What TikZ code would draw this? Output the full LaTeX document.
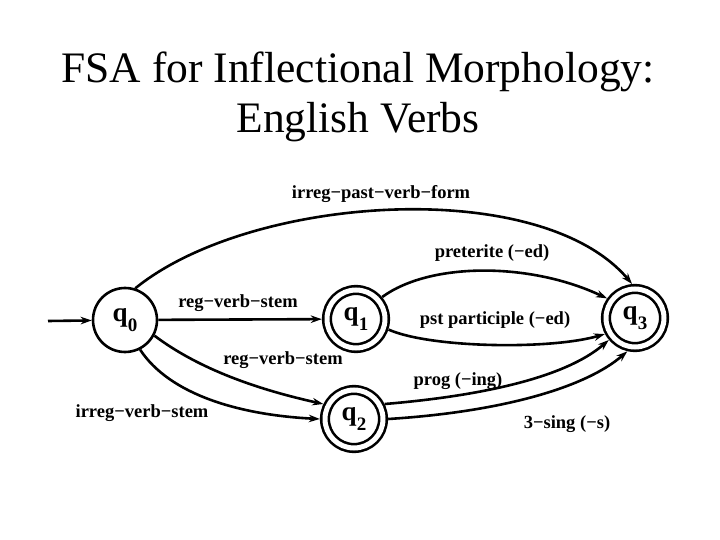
\documentclass[tikz,border=0pt]{standalone}
\usepackage{fontspec}
\setmainfont{Liberation Serif}
\usetikzlibrary{arrows.meta,positioning}
\tikzset{
  fsastate/.style={circle,draw=black,line width=2.6pt,minimum size=64pt,inner sep=0pt,outer sep=1.3pt},
  fsaaccept/.style={circle,draw=black,line width=2.6pt,double,double distance=5pt,
                    minimum size=58pt,inner sep=0pt,outer sep=5.2pt},
  fsaflow/.style={-{Stealth[length=11pt,width=7.5pt]},line width=2.6pt},
  fsalbl/.style={font=\fontsize{18.5}{20}\selectfont\bfseries,inner sep=0pt,anchor=base},
  fsatitle/.style={font=\fontsize{43.5}{50}\selectfont,inner sep=0pt,anchor=base},
}
\newcommand{\qsub}[1]{{\fontsize{27}{27}\selectfont\bfseries q}\raisebox{-10pt}{\fontsize{19}{19}\selectfont\bfseries #1}}

\begin{document}
\begin{tikzpicture}[x=1pt,y=-1pt]
  \useasboundingbox (0,0) rectangle (720,540);
  \node[fsatitle] (T1) at (358,83)  {FSA for Inflectional Morphology:};
  \node[fsatitle] (T2) at (358,133) {English Verbs};

  \node[fsastate]  (q0) at (125,320) {\qsub{0}};
  \node[fsaaccept] (q1) at (356,319) {\qsub{1}};
  \node[fsaaccept] (q2) at (354,419) {\qsub{2}};
  \node[fsaaccept] (q3) at (635,318) {\qsub{3}};
  \coordinate (start) at (48,321);

  \draw[fsaflow] (start) -- (q0);
  \draw[fsaflow] (q0) -- (q1);
  \draw[fsaflow] (q0.72) .. controls (250,195) and (540,175) .. (q3.95);
  \draw[fsaflow] (q1.40) .. controls (430,262) and (530,262) .. (q3.145);
  \draw[fsaflow] (q1.-18) .. controls (430,348) and (550,350) .. (q3.-152);
  \draw[fsaflow] (q0.-28) .. controls (200,370) and (260,390) .. (q2.154);
  \draw[fsaflow] (q0.-63) .. controls (170,395) and (240,415) .. (q2.180);
  \draw[fsaflow] (q2.26) .. controls (480,396) and (565,378) .. (q3.-140);
  \draw[fsaflow] (q2.0) .. controls (500,412) and (585,388) .. (q3.-103);

  \node[fsalbl] (l1) at (381,199) {irreg−past−verb−form};
  \node[fsalbl] (l2) at (492,257) {preterite (−ed)};
  \node[fsalbl] (l3) at (238,307) {reg−verb−stem};
  \node[fsalbl] (l4) at (495,324) {pst participle (−ed)};
  \node[fsalbl] (l5) at (283,364) {reg−verb−stem};
  \node[fsalbl] (l6) at (458,385) {prog (−ing)};
  \node[fsalbl] (l7) at (142,417) {irreg−verb−stem};
  \node[fsalbl] (l8) at (567,428) {3−sing (−s)};
\end{tikzpicture}
\end{document}
